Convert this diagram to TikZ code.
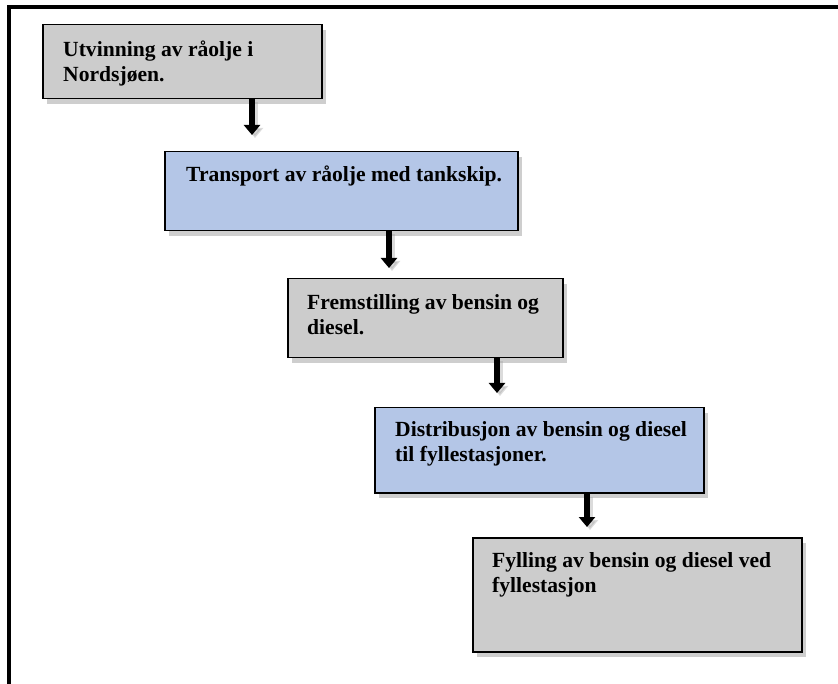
\documentclass[tikz,border=0pt]{standalone}
\usepackage{fontspec}
\setmainfont{Liberation Serif}
\usetikzlibrary{arrows.meta,shadows,calc}
\definecolor{boxgray}{HTML}{CCCCCC}
\definecolor{boxblue}{HTML}{B4C6E7}
\tikzset{
  stepbox/.style={draw=black, line width=1.5pt, anchor=north west, inner sep=0pt,
    drop shadow={shadow xshift=4pt, shadow yshift=-5pt, opacity=0.35, fill=black!55}},
  graybox/.style={stepbox, fill=boxgray},
  bluebox/.style={stepbox, fill=boxblue},
  steptext/.style={anchor=base west, inner sep=0pt, font=\bfseries\fontsize{21.6}{25}\selectfont},
  flow/.style={line width=6pt, -{Triangle[width=16pt,length=10pt]}},
  flowshadow/.style={line width=6pt, draw=black!40, opacity=0.35, -{Triangle[width=16pt,length=10pt]}},
  frame/.style={line width=4pt, line cap=rect},
}
\begin{document}
\begin{tikzpicture}[x=1pt,y=-1pt]
\useasboundingbox (0,0) rectangle (838,684);
% outer frame (left and top sides only)
\coordinate (fbl) at (9,684);
\coordinate (ftl) at (9,7);
\coordinate (ftr) at (840,7);
\draw[frame] (fbl) -- (ftl) -- (ftr);

% boxes
\node[graybox, minimum width=279pt, minimum height=74pt] (b1) at (42,24) {};
\node[bluebox, minimum width=353pt, minimum height=79pt] (b2) at (164,151) {};
\node[graybox, minimum width=275pt, minimum height=79pt] (b3) at (287,278) {};
\node[bluebox, minimum width=329pt, minimum height=85pt] (b4) at (374,407) {};
\node[graybox, minimum width=329pt, minimum height=114pt] (b5) at (472,537) {};

% texts
\node[steptext] (t1) at (63,57) {\parbox[t]{260pt}{Utvinning av råolje i\\Nordsjøen.}};
\node[steptext] (t2) at (186,182) {\parbox[t]{330pt}{Transport av råolje med tankskip.}};
\node[steptext] (t3) at (307,310) {\parbox[t]{260pt}{Fremstilling av bensin og\\diesel.}};
\node[steptext] (t4) at (395,436) {\parbox[t]{310pt}{Distribusjon av bensin og diesel\\til fyllestasjoner.}};
\node[steptext] (t5) at (492,567) {\parbox[t]{310pt}{Fylling av bensin og diesel ved\\fyllestasjon}};

% arrow ends
\coordinate (a1) at (252,135);
\coordinate (a2) at (389,268);
\coordinate (a3) at (497,393);
\coordinate (a4) at (587,527);
\coordinate (s1) at (255,138);
\coordinate (s2) at (392,271);
\coordinate (s3) at (500,396);
\coordinate (s4) at (590,530);

% arrow shadows
\draw[flowshadow] ($(b1.south -| s1)+(0,3)$) -- (s1);
\draw[flowshadow] ($(b2.south -| s2)+(0,3)$) -- (s2);
\draw[flowshadow] ($(b3.south -| s3)+(0,3)$) -- (s3);
\draw[flowshadow] ($(b4.south -| s4)+(0,3)$) -- (s4);
% arrows
\draw[flow] (b1.south -| a1) -- (a1);
\draw[flow] (b2.south -| a2) -- (a2);
\draw[flow] (b3.south -| a3) -- (a3);
\draw[flow] (b4.south -| a4) -- (a4);
\end{tikzpicture}
\end{document}
